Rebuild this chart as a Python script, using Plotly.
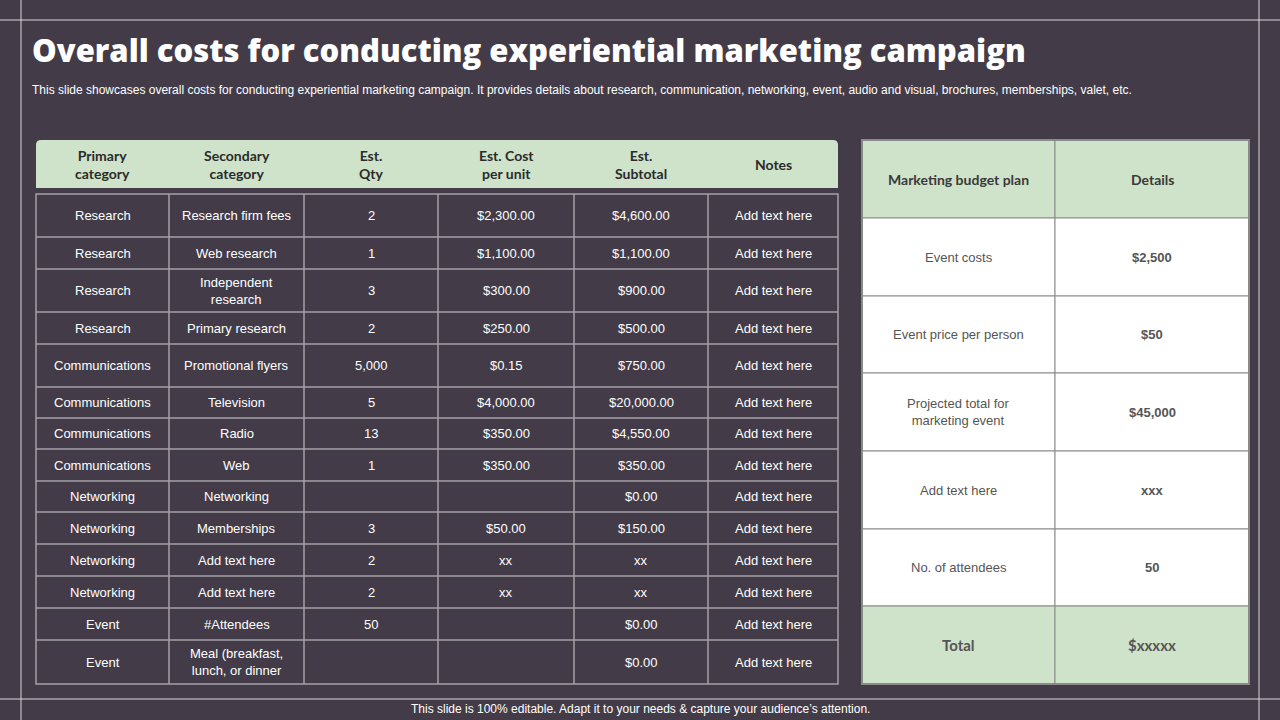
import plotly.graph_objects as go

primary = ["Research","Research","Research","Research","Communications","Communications","Communications","Communications","Networking","Networking","Networking","Networking","Event","Event"]
secondary = ["Research firm fees","Web research","Independent<br>research","Primary research","Promotional flyers","Television","Radio","Web","Networking","Memberships","Add text here","Add text here","#Attendees","Meal (breakfast,<br>lunch, or dinner"]
qty = ["2","1","3","2","5,000","5","13","1","","3","2","2","50",""]
cost = ["$2,300.00","$1,100.00","$300.00","$250.00","$0.15","$4,000.00","$350.00","$350.00","","$50.00","xx","xx","",""]
subtotal = ["$4,600.00","$1,100.00","$900.00","$500.00","$750.00","$20,000.00","$4,550.00","$350.00","$0.00","$150.00","xx","xx","$0.00","$0.00"]
notes = ["Add text here"]*14
left_headers = ["Primary<br>category","Secondary<br>category","Est.<br>Qty","Est. Cost<br>per unit","Est.<br>Subtotal","Notes"]

budget_items = ["Event costs","Event price per person","Projected total for<br>marketing event","Add text here","No. of attendees"]
budget_details = ["$2,500","$50","$45,000","xxx","50"]
right_headers = ["Marketing budget plan","Details"]
total_row = ["Total","$xxxxx"]

BG = "#433c48"
GREEN = "#cfe2ca"
GRID = "#a3a0a6"

col_x = [36,169,304,438,574,708,838]
row_y = [194,237,269,312,344,387,418,449,481,512,544,576,608,640,684]
rcol_x = [862,1055,1249]
rrow_y = [140,218,296,373,451,529,606,684]

shapes = []
ann = []
def A(x, y, t, size=13, color="white", bold=False, family="Liberation Sans", weight=None, **kw):
    w = weight if weight else ("bold" if bold else "normal")
    d = dict(x=x, y=y, text=t, showarrow=False, xref="x", yref="y",
             font=dict(size=size, color=color, family=family, weight=w))
    d.update(kw)
    ann.append(d)

for x in [21, 1259]:
    shapes.append(dict(type="line", x0=x, x1=x, y0=0, y1=720, line=dict(color="#d8d6da", width=1)))
for y in [20, 699]:
    shapes.append(dict(type="line", x0=0, x1=1280, y0=y, y1=y, line=dict(color="#d8d6da", width=1)))

shapes.append(dict(type="path", path="M 36 188 L 36 145 Q 36 140 41 140 L 833 140 Q 838 140 838 145 L 838 188 Z",
                   fillcolor=GREEN, line=dict(width=0)))
for i, h in enumerate(left_headers):
    A((col_x[i]+col_x[i+1])/2, 164, h, size=14, color="#2b2b2b", bold=True, family="Lato")

shapes.append(dict(type="rect", x0=col_x[0], x1=col_x[-1], y0=row_y[0], y1=row_y[-1], line=dict(color=GRID, width=1.5)))
for y in row_y[1:-1]:
    shapes.append(dict(type="line", x0=col_x[0], x1=col_x[-1], y0=y, y1=y, line=dict(color=GRID, width=1.5)))
for x in col_x[1:-1]:
    shapes.append(dict(type="line", x0=x, x1=x, y0=row_y[0], y1=row_y[-1], line=dict(color=GRID, width=1.5)))
cols = [primary, secondary, qty, cost, subtotal, notes]
for r in range(len(primary)):
    yc = (row_y[r]+row_y[r+1])/2
    for c, data in enumerate(cols):
        if data[r]:
            A((col_x[c]+col_x[c+1])/2, yc, data[r], size=13)

for r in range(len(rrow_y)-1):
    is_green = r == 0 or r == len(rrow_y)-2
    for c in range(2):
        shapes.append(dict(type="rect", x0=rcol_x[c], x1=rcol_x[c+1], y0=rrow_y[r], y1=rrow_y[r+1],
                           fillcolor=GREEN if is_green else "white", line=dict(color="#8a8a8a", width=1)))
shapes.append(dict(type="rect", x0=rcol_x[0], x1=rcol_x[-1], y0=rrow_y[0], y1=rrow_y[-1], line=dict(color="#8a8a8a", width=2)))
for c in range(2):
    A((rcol_x[c]+rcol_x[c+1])/2, (rrow_y[0]+rrow_y[1])/2, right_headers[c], size=14, color="#3a3a3a", bold=True, family="Lato")
    A((rcol_x[c]+rcol_x[c+1])/2, (rrow_y[-2]+rrow_y[-1])/2, total_row[c], size=15, color="#555555", bold=True, family="Lato")
for r, (it, dt) in enumerate(zip(budget_items, budget_details)):
    yc = (rrow_y[r+1]+rrow_y[r+2])/2
    A((rcol_x[0]+rcol_x[1])/2, yc, it, size=13, color="#555555")
    A((rcol_x[1]+rcol_x[2])/2, yc, dt, size=13, color="#555555", bold=True)

A(30, 50, "Overall costs for conducting experiential marketing campaign", size=31, weight=800,
  family="Open Sans", xanchor="left")
A(30, 90, "This slide showcases overall costs for conducting experiential marketing campaign. It provides details about research, communication, networking, event, audio and visual, brochures, memberships, valet, etc.",
  size=12, xanchor="left")
A(640, 709, "This slide is 100% editable. Adapt it to your needs & capture your audience’s attention.", size=12)

fig = go.Figure()
fig.update_layout(width=1280, height=720, margin=dict(l=0, r=0, t=0, b=0),
                  paper_bgcolor=BG, plot_bgcolor=BG, shapes=shapes, annotations=ann, showlegend=False,
                  xaxis=dict(range=[0,1280], visible=False, fixedrange=True),
                  yaxis=dict(range=[720,0], visible=False, fixedrange=True))
fig.write_html("out.html", config={"displayModeBar": False})
with open("out.html", encoding="utf-8") as f:
    html = f.read()
html = html.replace("<body>", '<body style="margin:0;overflow:hidden">', 1)
with open("out.html", "w", encoding="utf-8") as f:
    f.write(html)
